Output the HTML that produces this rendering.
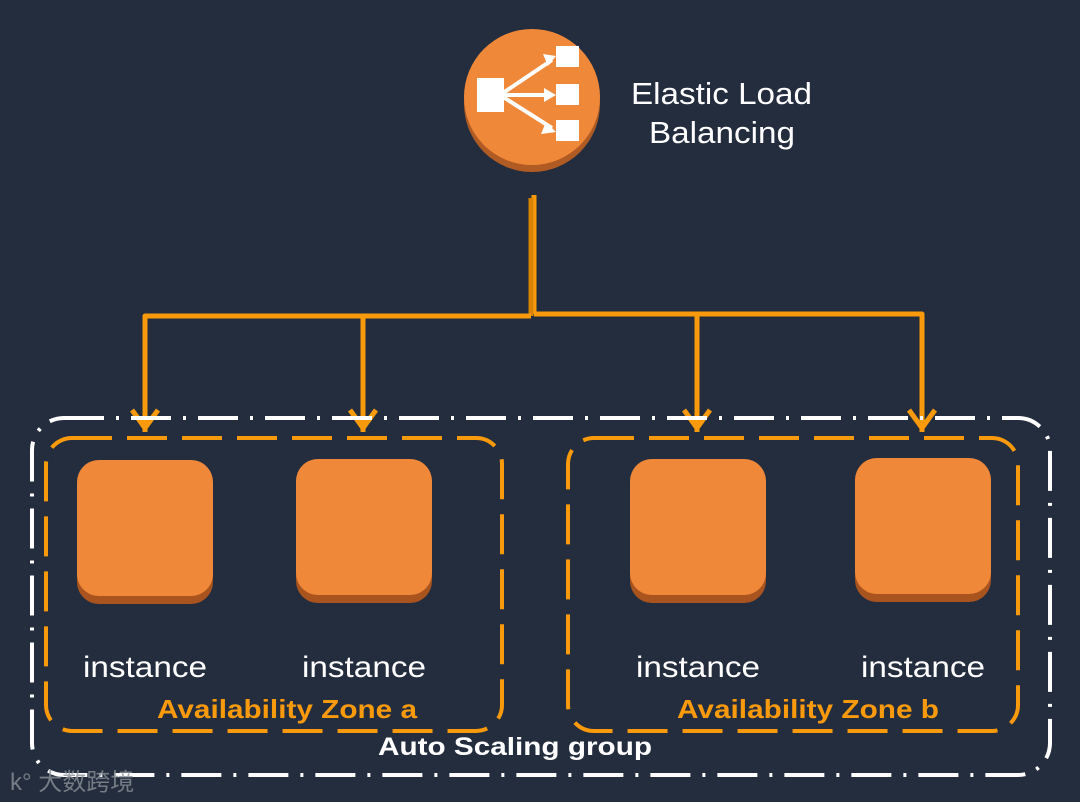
<!DOCTYPE html>
<html><head><meta charset="utf-8"><style>
html,body{margin:0;padding:0;background:#232d3d;}
svg{display:block}
</style></head><body>
<svg width="1080" height="802" viewBox="0 0 1080 802" xmlns="http://www.w3.org/2000/svg">
<rect width="1080" height="802" fill="#232d3d"/>
<!-- ELB -->
<circle cx="532" cy="104" r="68" fill="#b05b24"/>
<circle cx="532" cy="97" r="68" fill="#f0883a"/>
<g fill="#fff" stroke="#fff">
<rect x="477" y="78" width="27" height="34" stroke="none"/>
<rect x="556" y="46" width="23" height="21" stroke="none"/>
<rect x="556" y="84" width="23" height="21" stroke="none"/>
<rect x="556" y="120" width="23" height="21" stroke="none"/>
<path d="M500 95 L552 60 M500 95 L552 95 M500 95 L552 128" stroke-width="4" fill="none"/>
<path d="M543 54 L556 56 L548 66 Z M544 88 L556 95 L544 102 Z M546 122 L556 132 L541 134 Z" stroke="none"/>
</g>
<g font-family="Liberation Sans, sans-serif" font-size="31" fill="#fff">
<text x="631" y="104" textLength="181" lengthAdjust="spacingAndGlyphs">Elastic Load</text>
<text x="649" y="143" textLength="146" lengthAdjust="spacingAndGlyphs">Balancing</text>
</g>
<!-- connectors -->
<g stroke="#f99a0c" stroke-width="5" fill="none" stroke-linejoin="round">
<path d="M534 195 L534 314"/>
<path d="M531 198 L531 316" stroke="#d98400"/>
<path d="M145 432 L145 316 L531 316"/>
<path d="M534 314 L922 314 L922 432"/>
<path d="M363 316 L363 432"/>
<path d="M697 314 L697 432"/>
<path d="M132 410 L145 428 L158 410 M350 410 L363 428 L376 410 M684 410 L697 428 L710 410 M909 410 L922 428 L935 410" stroke-width="5"/>
</g>
<!-- outer group -->
<rect x="32" y="418" width="1018" height="357" rx="32" fill="none" stroke="#fff" stroke-width="4" stroke-dasharray="40 12 3 12"/>
<!-- zones -->
<rect x="46" y="438" width="456" height="293" rx="26" fill="none" stroke="#f99a0c" stroke-width="4" stroke-dasharray="40 15"/>
<rect x="568" y="438" width="450" height="293" rx="26" fill="none" stroke="#f99a0c" stroke-width="4" stroke-dasharray="40 15"/>
<!-- instances -->
<g>
<rect x="77" y="468" width="136" height="136" rx="22" fill="#a9531f"/>
<rect x="77" y="460" width="136" height="136" rx="22" fill="#f0883a"/>
<rect x="296" y="467" width="136" height="136" rx="22" fill="#a9531f"/>
<rect x="296" y="459" width="136" height="136" rx="22" fill="#f0883a"/>
<rect x="630" y="467" width="136" height="136" rx="22" fill="#a9531f"/>
<rect x="630" y="459" width="136" height="136" rx="22" fill="#f0883a"/>
<rect x="855" y="466" width="136" height="136" rx="22" fill="#a9531f"/>
<rect x="855" y="458" width="136" height="136" rx="22" fill="#f0883a"/>
</g>
<g font-family="Liberation Sans, sans-serif" font-size="30" fill="#fff">
<text x="83" y="677" textLength="124" lengthAdjust="spacingAndGlyphs">instance</text>
<text x="302" y="677" textLength="124" lengthAdjust="spacingAndGlyphs">instance</text>
<text x="636" y="677" textLength="124" lengthAdjust="spacingAndGlyphs">instance</text>
<text x="861" y="677" textLength="124" lengthAdjust="spacingAndGlyphs">instance</text>
</g>
<g font-family="Liberation Sans, sans-serif" font-size="26" font-weight="bold" fill="#f99a0c">
<text x="157" y="718" textLength="260" lengthAdjust="spacingAndGlyphs">Availability Zone a</text>
<text x="677" y="718" textLength="262" lengthAdjust="spacingAndGlyphs">Availability Zone b</text>
</g>
<text x="378" y="755" font-family="Liberation Sans, sans-serif" font-size="25" font-weight="bold" fill="#fff" textLength="274" lengthAdjust="spacingAndGlyphs">Auto Scaling group</text>
<text x="10" y="790" font-family="Liberation Sans, 'Noto Sans CJK SC', sans-serif" font-size="24" fill="#8a9099" opacity="0.8">k° 大数跨境</text>
</svg>
</body></html>
